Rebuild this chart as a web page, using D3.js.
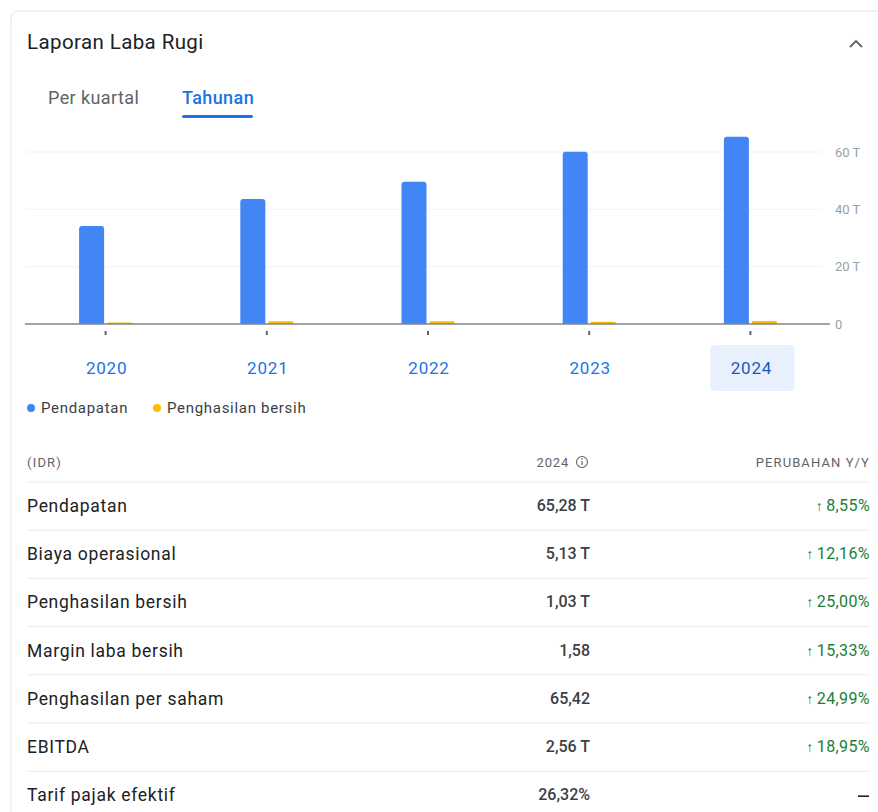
<!DOCTYPE html>
<html><head><meta charset="utf-8">
<script src="https://cdn.jsdelivr.net/npm/d3@7/dist/d3.min.js"></script>
<style>
body{margin:0;background:#fff;}
svg{display:block;font-family:Roboto,"Noto Sans",sans-serif;}
</style></head>
<body>
<svg id="chart" width="878" height="812"></svg>
<script>
const years = ["2020","2021","2022","2023","2024"];
const pendapatan = [34.2, 43.6, 49.6, 60.1, 65.28];
const penghasilanBersih = [0.5, 0.95, 1.0, 0.82, 1.03];
const yTicks = [0, 20, 40, 60];
const seriesNames = ["Pendapatan", "Penghasilan bersih"];
const rowLabels = ["Pendapatan","Biaya operasional","Penghasilan bersih","Margin laba bersih","Penghasilan per saham","EBITDA","Tarif pajak efektif"];
const rowValues = ["65,28 T","5,13 T","1,03 T","1,58","65,42","2,56 T","26,32%"];
const rowChanges = ["8,55%","12,16%","25,00%","15,33%","24,99%","18,95%",null];

const svg = d3.select("#chart");
const blue = "#4285f4", yellow = "#fbbc04";

// card border
svg.append("rect").attr("x",11).attr("y",11).attr("width",900).attr("height",900)
  .attr("rx",8).attr("fill","none").attr("stroke","#e3e5e8");

svg.append("text").attr("x",27).attr("y",49).attr("font-size",20.5).attr("letter-spacing",0.4).attr("fill","#202124").text("Laporan Laba Rugi");
svg.append("path").attr("d","M850,47 L856,41 L862,47").attr("fill","none").attr("stroke","#5f6368").attr("stroke-width",1.8);

svg.append("text").attr("x",48).attr("y",104).attr("font-size",18).attr("letter-spacing",0.4).attr("fill","#5f6368").text("Per kuartal");
svg.append("text").attr("x",182).attr("y",104).attr("font-size",18).attr("letter-spacing",0.4).attr("fill","#1a73e8").attr("font-weight",500).text("Tahunan");
svg.append("rect").attr("x",182).attr("y",115).attr("width",71).attr("height",3).attr("rx",1.5).attr("fill","#1a73e8");

// scales
const x = d3.scaleBand().domain(years).range([25, 831]);
const y = d3.scaleLinear().domain([0, 60]).range([324, 152]);

// grid
svg.append("g").selectAll("line").data(yTicks.filter(d=>d>0)).join("line")
  .attr("x1",25).attr("x2",822).attr("y1",d=>y(d)).attr("y2",d=>y(d))
  .attr("stroke","#f1f3f4").attr("stroke-width",1);

// y axis labels
const yAxis = d3.axisRight(y).tickValues(yTicks).tickSize(0).tickPadding(0)
  .tickFormat(d => d === 0 ? "0" : d + " T");
const ya = svg.append("g").attr("transform","translate(835,0)").call(yAxis);
ya.select(".domain").remove();
ya.selectAll("text").attr("font-size",13).attr("fill","#9aa0a6").attr("font-family","Roboto,sans-serif");

// bars
const bw = 25, gap = 3;
const gb = svg.append("g");
gb.selectAll("path").data(years).join("path")
  .attr("fill",blue)
  .attr("d",(d,i)=>{
    const cx = x(d)+x.bandwidth()/2; const x0 = cx - gap/2 - bw; const y0 = y(pendapatan[i]); const y1 = y(0); const r=3;
    return `M${x0},${y1} L${x0},${y0+r} Q${x0},${y0} ${x0+r},${y0} L${x0+bw-r},${y0} Q${x0+bw},${y0} ${x0+bw},${y0+r} L${x0+bw},${y1} Z`;
  });
gb.selectAll("rect").data(years).join("rect")
  .attr("fill",yellow)
  .attr("x",d=>x(d)+x.bandwidth()/2+gap/2)
  .attr("width",bw)
  .attr("y",(d,i)=>y(penghasilanBersih[i]))
  .attr("height",(d,i)=>y(0)-y(penghasilanBersih[i]))
  .attr("rx",1);

// baseline
svg.append("line").attr("x1",25).attr("x2",830).attr("y1",y(0)).attr("y2",y(0)).attr("stroke","#80868b").attr("stroke-width",1.5);

// x ticks
svg.selectAll("line.xt").data(years).join("line").attr("class","xt")
  .attr("x1",d=>x(d)+x.bandwidth()/2).attr("x2",d=>x(d)+x.bandwidth()/2)
  .attr("y1",331).attr("y2",335).attr("stroke","#5f6368").attr("stroke-width",2);

// highlight 2024
const last = years[years.length-1];
svg.append("rect").attr("x",x(last)+x.bandwidth()/2-40).attr("y",345).attr("width",84).attr("height",46).attr("rx",4).attr("fill","#e8f0fe");

svg.selectAll("text.year").data(years).join("text").attr("class","year")
  .attr("x",d=>x(d)+x.bandwidth()/2+1).attr("y",374).attr("text-anchor","middle")
  .attr("font-size",17).attr("letter-spacing",0.8)
  .attr("fill",d=>d===last?"#185abc":"#1a73e8").text(d=>d);

// legend
const lg = svg.append("g");
[blue, yellow].forEach((c,i)=>{
  const lx = i===0 ? 31 : 157;
  lg.append("circle").attr("cx",lx).attr("cy",408).attr("r",4).attr("fill",c);
  lg.append("text").attr("x",lx+10).attr("y",413).attr("font-size",15).attr("letter-spacing",0.7).attr("fill","#3c4043").text(seriesNames[i]);
});

// table header
svg.append("text").attr("x",27).attr("y",467).attr("font-size",13).attr("letter-spacing",1.2).attr("fill","#5f6368").text("(IDR)");
svg.append("text").attr("x",569).attr("y",467).attr("font-size",13).attr("fill","#5f6368").attr("text-anchor","end").attr("letter-spacing",0.8).text("2024");
svg.append("circle").attr("cx",582).attr("cy",462).attr("r",5.5).attr("fill","none").attr("stroke","#5f6368").attr("stroke-width",1.1);
svg.append("line").attr("x1",582).attr("x2",582).attr("y1",461).attr("y2",465).attr("stroke","#5f6368").attr("stroke-width",1.2);
svg.append("circle").attr("cx",582).attr("cy",459).attr("r",0.8).attr("fill","#5f6368");
svg.append("text").attr("x",870).attr("y",467).attr("font-size",13).attr("fill","#5f6368").attr("text-anchor","end").attr("letter-spacing",1.1).text("PERUBAHAN Y/Y");

const rowTop = 482, rowH = 48.2;
rowLabels.forEach((lab,i)=>{
  const yy = rowTop + i*rowH;
  svg.append("line").attr("x1",27).attr("x2",870).attr("y1",yy).attr("y2",yy).attr("stroke","#e8eaed");
  const ty = yy + 30;
  svg.append("text").attr("x",27).attr("y",ty).attr("font-size",17.5).attr("letter-spacing",0.7).attr("fill","#202124").text(lab);
  svg.append("text").attr("x",590).attr("y",ty-1).attr("text-anchor","end").attr("font-size",16).attr("font-weight",500).attr("fill","#3c4043").text(rowValues[i]);
  if (rowChanges[i]) {
    const t = svg.append("text").attr("x",870).attr("y",ty-1).attr("text-anchor","end").attr("font-size",16).attr("letter-spacing",0.4).attr("fill","#188038");
    t.append("tspan").attr("font-size",14).text("↑");
    t.append("tspan").attr("dx",3).text(rowChanges[i]);
  } else {
    svg.append("line").attr("x1",858).attr("x2",869).attr("y1",ty-5).attr("y2",ty-5).attr("stroke","#202124").attr("stroke-width",1.6);
  }
});
</script>
</body></html>
